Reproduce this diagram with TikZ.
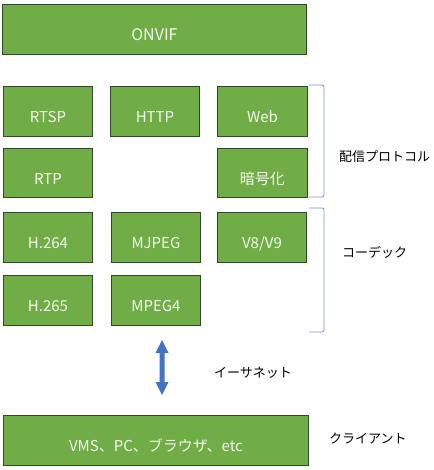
\documentclass[tikz,border=0pt]{standalone}
\usepackage{fontspec}
\setmainfont{Noto Sans CJK JP}
\definecolor{boxgreen}{HTML}{70AD47}
\definecolor{boxedge}{HTML}{2F4A2A}
\definecolor{boxtext}{HTML}{F4FAEE}
\definecolor{brace}{HTML}{7F96BC}
\definecolor{arrowblue}{HTML}{4472C4}
\newcommand{\lowtxt}[1]{\smash{\raisebox{-11.3pt}{#1}}}
\begin{document}
\begin{tikzpicture}[x=1pt,y=-1pt,
  gbox/.style={draw=boxedge,line width=0.9pt,fill=boxgreen,text=boxtext,
    font=\fontsize{15}{17}\selectfont,inner sep=0pt,anchor=north west},
  sidelabel/.style={font=\fontsize{13}{15}\selectfont,text=black,anchor=west,inner sep=0pt},
  bracketline/.style={draw=brace,line width=0.8pt,rounded corners=2pt}]
\useasboundingbox (0,0) rectangle (433,470);
\node[gbox,minimum width=304pt,minimum height=50pt,font=\fontsize{16}{18}\selectfont] (onvif) at (2,4) {\lowtxt{ONVIF}};
\node[gbox,minimum width=89pt,minimum height=50pt] (rtsp) at (3,86) {\lowtxt{RTSP}};
\node[gbox,minimum width=89pt,minimum height=50pt] (http) at (110,86) {\lowtxt{HTTP}};
\node[gbox,minimum width=90pt,minimum height=50pt] (web) at (217,86) {\lowtxt{Web}};
\node[gbox,minimum width=89pt,minimum height=49pt] (rtp) at (3,148) {\lowtxt{RTP}};
\node[gbox,minimum width=90pt,minimum height=49pt] (enc) at (217,148) {\lowtxt{暗号化}};
\node[gbox,minimum width=89pt,minimum height=50pt] (h264) at (3,212) {\lowtxt{H.264}};
\node[gbox,minimum width=89pt,minimum height=50pt] (mjpeg) at (111,212) {\lowtxt{MJPEG}};
\node[gbox,minimum width=89pt,minimum height=50pt] (v8) at (217,212) {\lowtxt{V8/V9}};
\node[gbox,minimum width=89pt,minimum height=50pt] (h265) at (3,275) {\lowtxt{H.265}};
\node[gbox,minimum width=89pt,minimum height=50pt] (mpeg4) at (111,275) {\lowtxt{MPEG4}};
\node[gbox,minimum width=305pt,minimum height=50pt] (client) at (3,415) {\lowtxt{VMS、PC、ブラウザ、etc}};
% brackets
\draw[bracketline] (309,85) -- (324,85) -- (324,197) -- (309,197);
\draw[bracketline] (309,208) -- (324,208) -- (324,332) -- (309,332);
% labels
\node[sidelabel] (lproto) at (339,157) {配信プロトコル};
\node[sidelabel] (lcodec) at (342,252) {コーデック};
\node[sidelabel] (leth) at (214,373) {イーサネット};
\node[sidelabel] (lcli) at (329,439) {クライアント};
% double arrow
\coordinate (atop) at (162,340);
\coordinate (abot) at (162,395);
\fill[arrowblue] (atop) -- ++(6.5,13) -- ++(-4,0) -- ++(0,29) -- ++(4,0)
  -- (abot) -- ++(-6.5,-13) -- ++(4,0) -- ++(0,-29) -- ++(-4,0) -- cycle;
\end{tikzpicture}
\end{document}
